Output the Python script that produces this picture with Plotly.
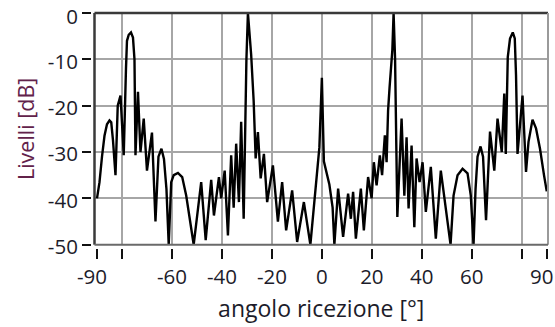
import plotly.graph_objects as go

# angle (deg) and level (dB)
angle = [-90, -89, -88, -87, -86, -85, -84.3, -83.6, -82.6, -81.7, -80.6, -79.3,
         -78.4, -78.0, -77.3, -76.4, -75.6, -75.0, -74.6, -73.6, -72.6, -71.3, -70.0,
         -68.0, -66.6, -65.4, -64.2, -63.2, -62.2, -61.3, -60.3, -59.3, -57.6, -55.9,
         -54.3, -52.9, -51.3, -48.3, -46.5, -44.3, -43.2, -41.2, -40.3, -38.9, -37.6,
         -36.3, -35.3, -34.3, -33.2, -32.3, -31.3, -30.2, -29.6, -28.3, -27.3, -26.5,
         -25.6, -24.5, -23.2, -21.9, -19.6, -17.6, -15.9, -14.3, -11.9, -9.9, -7.2,
         -4.6, -2.5, -1.0, 0.0, 0.8, 3.0, 4.3, 5.0, 6.5, 8.5, 10.5, 11.6, 12.5, 13.6,
         15.6, 16.8, 18.5, 19.9, 20.8, 21.9, 23.2, 24.1, 25.2, 25.9, 26.5, 27.1, 28.2,
         28.7, 29.3, 30.2, 31.9, 33.0, 33.9, 34.7, 35.9, 37.0, 37.9, 39.1, 40.3, 41.6,
         43.6, 45.6, 47.6, 51.5, 52.7, 54.3, 56.3, 58.3, 59.6, 60.7, 61.5, 62.3, 63.5,
         64.5, 65.7, 67.3, 69.0, 70.3, 72.0, 73.0, 73.6, 74.4, 75.3, 76.4, 77.2, 77.7,
         78.3, 80.3, 81.7, 82.7, 84.3, 85.7, 87.3, 88.9, 90]
level = [-40, -36.5, -31, -26.5, -24, -23.2, -23.6, -27.5, -35, -20, -17.8, -30.7,
         -12, -6, -4.7, -4.2, -5.3, -10, -30.7, -17, -30, -22.8, -34,
         -25.8, -45, -31, -29.3, -31.5, -38, -50, -36.5, -35, -34.5, -35.4,
         -39.4, -44.4, -50, -36.5, -49, -36, -43.7, -35.4, -40, -34, -48,
         -30.7, -42, -28.2, -40.8, -23.5, -44.4, -10, 0, -9, -19, -31.4,
         -25.7, -35.7, -30.4, -40.8, -32.9, -45, -36.5, -46.9, -38.3, -49.4, -40.8,
         -50, -38.5, -29, -14, -32, -37, -42, -50, -37.9, -48.3, -39, -44.4, -38.6, -48.7,
         -37.9, -46.9, -35.4, -40, -32.2, -37.2, -30.7, -35, -26.4, -32.2, -21, -16, -8,
         0, -10, -44, -22.8, -39.4, -26.8, -42.2, -28.6, -46.2, -31.4, -36.5, -32.2, -42.9,
         -33.2, -48.7, -34, -50, -39.4, -35, -33.6, -34.6, -39.4, -50, -38, -31, -28.8,
         -31, -44.7, -25.6, -34, -22.8, -30, -17.4, -30.4, -9.5, -5.5, -4.2, -5.5, -13.4,
         -30.4, -17.8, -34.3, -27.8, -23, -24.9, -29.3, -35, -38.5]

x_tickvals = [-90, -80, -60, -40, -20, 0, 20, 40, 60, 80, 90]
x_ticktext = ["", "", "-60", "-40", "-20", "0", "20", "40", "60", "", ""]
x_edgevals = [-90, 90]
x_edgetext = ["-90", "90"]
x_gridvals = [-80, -60, -40, -20, 0, 20, 40, 60, 80]
y_tickvals = [0, -10, -20, -30, -40, -50]
y_ticktext = ["", "-10", "-20", "-30", "-40", "-50"]
y_topvals = [0]
y_toptext = ["0"]
y_gridvals = [-10, -20, -30, -40]

W, H = 555, 327
L, R, T, B = 91, 7, 12.5, 79
pw = W - L - R
ph = H - T - B
dx = 3.5 / pw
dy = 3.3 / ph
XR = [-91, 90.5]
YR = [-50, 0]

FONT = "Open Sans"
TXT = "#1c1c2a"

fig = go.Figure()
fig.add_trace(go.Scatter(x=angle, y=level, mode="lines",
                         line=dict(color="black", width=2.4),
                         hoverinfo="skip", showlegend=False))
# empty helper trace so the overlay label axes are drawn
fig.add_trace(go.Scatter(x=x_edgevals, y=[None, None], xaxis="x2", yaxis="y2",
                         mode="lines", hoverinfo="skip", showlegend=False))

common_x = dict(range=XR, domain=[dx, 1], anchor="free", position=0,
                automargin=False, ticklabeloverflow="allow",
                ticks="outside", ticklen=10, tickwidth=2,
                showgrid=False, zeroline=False, showline=False,
                tickfont=dict(family=FONT, size=20.5, color=TXT))
common_y = dict(range=YR, domain=[dy, 1], anchor="free", position=0,
                automargin=False, ticklabeloverflow="allow",
                ticks="outside", ticklen=9, tickwidth=2,
                showgrid=False, zeroline=False, showline=False,
                tickfont=dict(family=FONT, size=20.5, color=TXT))

fig.update_layout(
    width=W, height=H,
    margin=dict(l=L, r=R, t=T, b=B, pad=0, autoexpand=False),
    paper_bgcolor="white", plot_bgcolor="white",
    font=dict(family=FONT, size=20, color=TXT),
    xaxis=dict(**common_x, tickmode="array", tickvals=x_tickvals, ticktext=x_ticktext,
               tickcolor="#111",
               minor=dict(tickmode="array", tickvals=x_gridvals, showgrid=True,
                          gridcolor="#a6a6a6", gridwidth=2, ticks=""),
               title=dict(text="angolo ricezione [°]", standoff=12,
                          font=dict(family=FONT, size=23, color=TXT))),
    xaxis2=dict(**common_x, overlaying="x", tickmode="array", tickvals=x_edgevals,
                ticktext=x_edgetext, tickcolor="rgba(0,0,0,0)", ticklabelshift=-5),
    yaxis=dict(**common_y, ticklabelshift=2, tickmode="array", tickvals=y_tickvals,
               ticktext=y_ticktext, tickcolor="#111",
               minor=dict(tickmode="array", tickvals=y_gridvals, showgrid=True,
                          gridcolor="#a6a6a6", gridwidth=2, ticks=""),
               title=dict(text="Livelli [dB]", standoff=6,
                          font=dict(family=FONT, size=21.5, color="#62224a"))),
    yaxis2=dict(**common_y, overlaying="y", ticklabelshift=4, tickmode="array",
                tickvals=y_topvals, ticktext=y_toptext, tickcolor="rgba(0,0,0,0)"),
    shapes=[
        dict(type="line", xref="x domain", yref="y domain", x0=0, x1=1, y0=1, y1=1,
             line=dict(color="#3a3a3a", width=2.5), layer="above"),
        dict(type="line", xref="x domain", yref="y domain", x0=0, x1=0, y0=0, y1=1,
             line=dict(color="#3a3a3a", width=2.5), layer="above"),
        dict(type="line", xref="x domain", yref="y domain", x0=1, x1=1, y0=0, y1=1,
             line=dict(color="#9a9a9a", width=2), layer="above"),
        dict(type="line", xref="x domain", yref="y domain", x0=0, x1=1, y0=0, y1=0,
             line=dict(color="#6a6a6a", width=2), layer="above"),
    ],
)

fig.write_html("out.html", config={"displayModeBar": False},
               post_script="document.body.style.margin='0';document.body.style.overflow='hidden';")
